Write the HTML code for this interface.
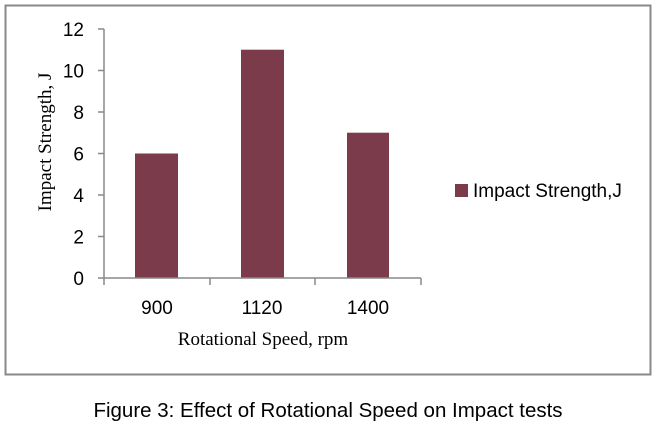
<!DOCTYPE html>
<html><head><meta charset="utf-8"><style>
body{margin:0;background:#fff;width:655px;height:430px;overflow:hidden}
</style></head><body>
<svg width="655" height="430" xmlns="http://www.w3.org/2000/svg">
<rect x="5.5" y="5.5" width="645" height="369" fill="#fff" stroke="#888" stroke-width="2"/>
<g fill="#7b3b4a">
<rect x="135" y="153.5" width="43" height="124.5"/>
<rect x="241" y="49.7" width="43" height="228.3"/>
<rect x="347" y="132.7" width="42" height="145.3"/>
</g>
<g stroke="#888" stroke-width="1.5" fill="none">
<line x1="104" y1="29" x2="104" y2="285"/>
<line x1="98" y1="278" x2="421" y2="278"/>
<line x1="98" y1="29" x2="104" y2="29"/>
<line x1="98" y1="70.5" x2="104" y2="70.5"/>
<line x1="98" y1="112" x2="104" y2="112"/>
<line x1="98" y1="153.5" x2="104" y2="153.5"/>
<line x1="98" y1="195" x2="104" y2="195"/>
<line x1="98" y1="236.5" x2="104" y2="236.5"/>
<line x1="210" y1="278" x2="210" y2="285"/>
<line x1="315" y1="278" x2="315" y2="285"/>
<line x1="421" y1="278" x2="421" y2="285"/>
</g>
<g font-family="Liberation Sans, sans-serif" font-size="19" fill="#000" text-anchor="end">
<text x="84" y="36">12</text><text x="84" y="77.5">10</text><text x="84" y="119">8</text>
<text x="84" y="160.5">6</text><text x="84" y="202">4</text><text x="84" y="243.5">2</text>
<text x="84" y="285">0</text>
</g>
<g font-family="Liberation Sans, sans-serif" font-size="19" fill="#000" text-anchor="middle">
<text x="157" y="314">900</text><text x="262" y="314">1120</text><text x="368" y="314">1400</text>
</g>
<text x="263" y="345" font-family="Liberation Serif, serif" font-size="19" text-anchor="middle">Rotational Speed, rpm</text>
<text transform="translate(51,142) rotate(-90)" font-family="Liberation Serif, serif" font-size="19" text-anchor="middle">Impact Strength, J</text>
<rect x="455" y="184" width="13" height="13" fill="#7b3b4a"/>
<text x="473" y="197" font-family="Liberation Sans, sans-serif" font-size="19">Impact Strength,J</text>
<text x="328" y="417" font-family="Liberation Sans, sans-serif" font-size="20.5" text-anchor="middle">Figure 3: Effect of Rotational Speed on Impact tests</text>
</svg>
</body></html>
